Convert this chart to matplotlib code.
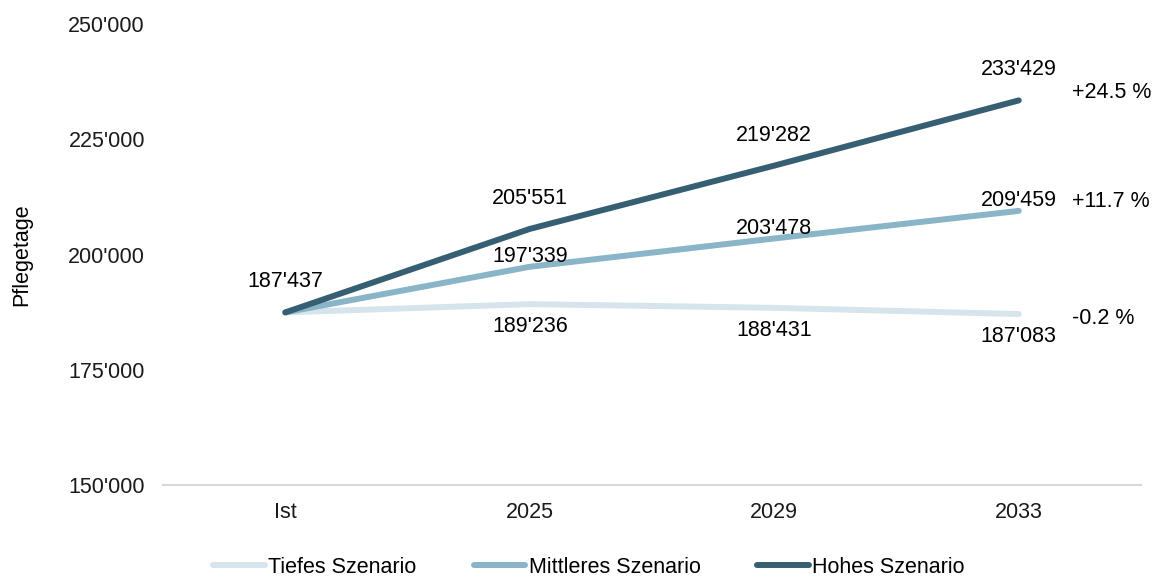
import numpy as np
import matplotlib.pyplot as plt

plt.rcParams['font.family'] = ['Liberation Sans', 'DejaVu Sans']

kategorien = ['Ist', '2025', '2029', '2033']
tief = [187437, 189236, 188431, 187083]
mittel = [187437, 197339, 203478, 209459]
hoch = [187437, 205551, 219282, 233429]
veraenderung = ['-0.2 %', '+11.7 %', '+24.5 %']
namen = ['Tiefes Szenario', 'Mittleres Szenario', 'Hohes Szenario']
farben = ['#d6e5ec', '#8ab4c8', '#375f73']

fs = 15.5


def fmt(v):
    return f"{v:,}".replace(',', "'")


fig = plt.figure(figsize=(11.53, 5.8), dpi=100)
ax = fig.add_axes([0.1414, 0.1638, 0.8482, 0.7948])

x = np.arange(len(kategorien))
for serie, name, farbe in zip([tief, mittel, hoch], namen, farben):
    ax.plot(x, serie, color=farbe, lw=4.3, label=name, solid_capstyle='round')

# Beschriftungen
for i, v in enumerate(hoch):
    ax.annotate(fmt(v), (x[i], v), xytext=(0, 22), textcoords='offset points',
                ha='center', va='center', fontsize=fs)
for i, v in enumerate(mittel[1:], start=1):
    ax.annotate(fmt(v), (x[i], v), xytext=(0, 7.5), textcoords='offset points',
                ha='center', va='center', fontsize=fs)
for i, v in enumerate(tief[1:], start=1):
    ax.annotate(fmt(v), (x[i], v), xytext=(0, -16), textcoords='offset points',
                ha='center', va='center', fontsize=fs)

for serie, txt, dy in zip([tief, mittel, hoch], veraenderung, [-3, 7, 6]):
    ax.annotate(txt, (x[-1], serie[-1]), xytext=(38, dy), textcoords='offset points',
                ha='left', va='center', fontsize=fs)

ax.set_xlim(-0.5, 3.5)
ax.set_ylim(150000, 250000)
ax.set_yticks([150000, 175000, 200000, 225000, 250000])
ax.set_yticklabels([fmt(t) for t in ax.get_yticks().astype(int)])
ax.set_xticks(x)
ax.set_xticklabels(kategorien)
ax.tick_params(axis='both', length=0, labelsize=fs, colors='#1a1a1a')
ax.tick_params(axis='y', pad=13)
ax.tick_params(axis='x', pad=12)
for s in ['top', 'right', 'left']:
    ax.spines[s].set_visible(False)
ax.spines['bottom'].set_color('#d9d9d9')
ax.spines['bottom'].set_linewidth(1.5)
ax.set_ylabel('Pflegetage', fontsize=fs, labelpad=26)

fig.legend(*ax.get_legend_handles_labels(), loc='center', bbox_to_anchor=(0.511, 0.022),
           ncol=3, frameon=False, fontsize=fs, handlelength=2.4, columnspacing=2.65,
           handletextpad=0.15)

fig.savefig('out.png', dpi=100)
